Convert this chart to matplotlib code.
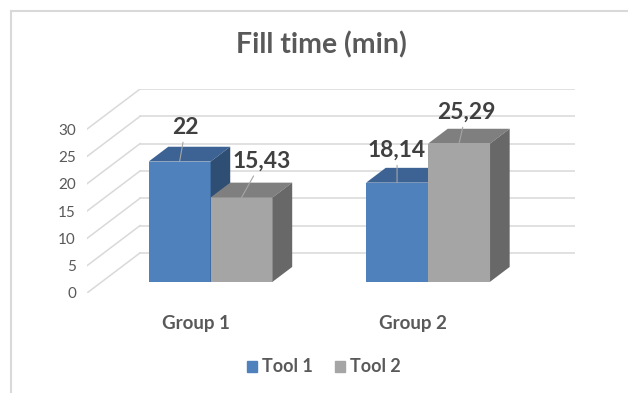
import matplotlib
matplotlib.use('Agg')
import matplotlib.pyplot as plt
from matplotlib.patches import Polygon, Patch
from matplotlib.lines import Line2D

# chart data
title = "Fill time (min)"
groups = ['Group 1', 'Group 2']
series = ['Tool 1', 'Tool 2']
tool1 = [22, 18.14]
tool2 = [15.43, 25.29]
yticks = [0, 5, 10, 15, 20, 25, 30]

# colours: front, top, side
face_cols = {
    'Tool 1': ('#4F81BD', '#3C6393', '#2F4E74'),
    'Tool 2': ('#A5A5A5', '#7F7F7F', '#686868'),
}
grid_col = '#d9d9d9'
txt_col = '#595959'

# fake 3d: depth offset of the whole floor, in data units
DX = 0.244
DY = 7.34
d0, d1 = 0.28, 0.65  # bar front / back depth fraction
w = 0.285            # bar width (category units)

# value label offsets in pixels (dx, dy) per group per series
label_off = [[(6, 34), (20, 36)], [(0, 32), (7, 31)]]

plt.rcParams['font.family'] = ['Lato', 'DejaVu Sans']

fig = plt.figure(figsize=(6.28, 3.93), dpi=100)
ax = fig.add_axes([87 / 628, 100 / 393, 488 / 628, 204 / 393])
ymax = yticks[-1]
ax.set_xlim(-0.5, len(groups) - 0.5 + DX)
ax.set_ylim(0, ymax + DY)
for s in ax.spines.values():
    s.set_visible(False)

# back wall + side wall gridlines
x_left = -0.5
x_right = len(groups) - 0.5
for v in yticks:
    ax.plot([x_left + DX, x_right + DX], [v + DY, v + DY], color=grid_col, lw=1.1, zorder=1)
    ax.plot([x_left, x_left + DX], [v, v + DY], color=grid_col, lw=1.1, zorder=1)

ax.set_yticks(yticks)
ax.set_yticklabels([str(t) for t in yticks])
ax.tick_params(axis='y', length=0, pad=8, labelsize=11, labelcolor=txt_col)
ax.set_xticks(range(len(groups)))
ax.set_xticklabels(groups, fontweight='bold')
ax.tick_params(axis='x', length=0, pad=16, labelsize=13.5, labelcolor=txt_col)

bd = d1 - d0
base = d0 * DY
for i in range(len(groups)):
    for j, (name, vals) in enumerate(zip(series, [tool1, tool2])):
        v = vals[i]
        front, top, side = face_cols[name]
        x0 = i + d0 * DX + (j - 1) * w
        z = 3 + j
        ax.bar(x0, v, width=w, bottom=base, align='edge', color=front, lw=0, zorder=z)
        yt = base + v
        ax.add_patch(Polygon([(x0, yt), (x0 + w, yt), (x0 + w + bd * DX, yt + bd * DY),
                              (x0 + bd * DX, yt + bd * DY)], closed=True, fc=top, lw=0, zorder=z))
        ax.add_patch(Polygon([(x0 + w, base), (x0 + w, yt), (x0 + w + bd * DX, yt + bd * DY),
                              (x0 + w + bd * DX, base + bd * DY)], closed=True, fc=side, lw=0, zorder=z))
        lbl = f"{v:g}".replace('.', ',')
        ox, oy = label_off[i][j]
        ax.annotate(lbl, xy=(x0 + w / 2, yt), xytext=(ox, oy), textcoords='offset pixels',
                    ha='center', va='center', fontsize=16.5, fontweight='bold', color='#404040',
                    zorder=10,
                    arrowprops=dict(arrowstyle='-', color='#a6a6a6', lw=0.8, shrinkA=1, shrinkB=0))

fig.text(321 / 628, 1 - 45 / 393, title, ha='center', va='center', fontsize=20.5,
         fontweight='bold', color=txt_col)

handles = [Patch(color=face_cols[s][0]) for s in series]
fig.legend(handles, series, loc='center', bbox_to_anchor=(324 / 628, 1 - 367 / 393), ncol=2,
           frameon=False, handlelength=0.55, handleheight=0.55, handletextpad=0.3,
           columnspacing=1.2, prop={'size': 13, 'weight': 'bold'}, labelcolor=txt_col)

# chart frame (top and left edges visible)
fig.add_artist(Line2D([10.5 / 628, 10.5 / 628], [0, 1 - 10.5 / 393], color=grid_col, lw=1.5))
fig.add_artist(Line2D([10.5 / 628, 1], [1 - 10.5 / 393, 1 - 10.5 / 393], color=grid_col, lw=1.5))

fig.savefig('out.png', dpi=100)
